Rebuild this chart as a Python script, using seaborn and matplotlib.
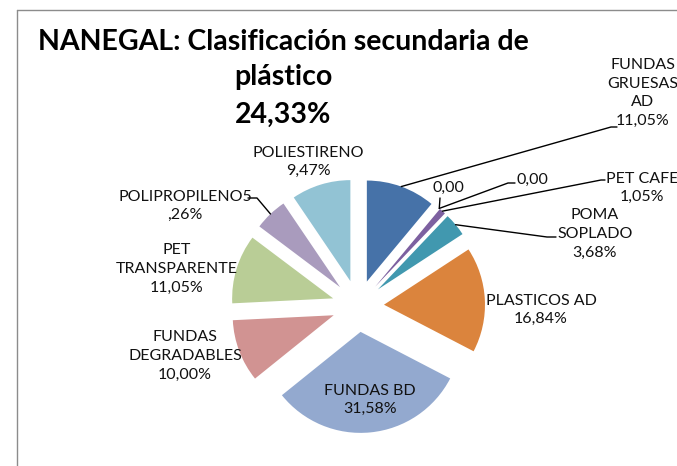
import numpy as np
import pandas as pd
import seaborn as sns
import matplotlib.pyplot as plt
from matplotlib.lines import Line2D

"""
datos: clasificacion secundaria de plastico en Nanegal (en %)
"""
categorias = ["FUNDAS GRUESAS AD", "SIN DATO 1", "SIN DATO 2", "PET CAFE", "POMA SOPLADO",
              "PLASTICOS AD", "FUNDAS BD", "FUNDAS DEGRADABLES", "PET TRANSPARENTE",
              "POLIPROPILENO", "POLIESTIRENO"]
porcentajes = [11.05, 0.0, 0.0, 1.05, 3.68, 16.84, 31.58, 10.00, 11.05, 5.26, 9.47]
etiquetas = ["FUNDAS\nGRUESAS\nAD\n11,05%", "0,00", "0,00", "PET CAFE\n1,05%",
             "POMA\nSOPLADO\n3,68%", "PLASTICOS AD\n16,84%", "FUNDAS BD\n31,58%",
             "FUNDAS\nDEGRADABLES\n10,00%", "PET\nTRANSPARENTE\n11,05%",
             "POLIPROPILENO5\n,26%", "POLIESTIRENO\n9,47%"]
colores = ["#4672A8", "#AA4643", "#89A54E", "#7D60A0", "#4198AF", "#DB843D",
           "#93A9CF", "#D19392", "#B9CD96", "#A99BBD", "#92C3D4"]

df = pd.DataFrame({"categoria": categorias, "porcentaje": porcentajes,
                   "etiqueta": etiquetas, "color": colores})

sns.set_theme(style="white")
plt.rcParams["font.family"] = ["Lato", "DejaVu Sans"]

W, H = 677, 466
fig = plt.figure(figsize=(W / 100, H / 100), dpi=100)
ax = fig.add_axes([0, 0, 1, 1])

# pie en coordenadas de pixel (y invertida)
wedges, _ = ax.pie(df["porcentaje"], colors=df["color"], startangle=-90, counterclock=True,
                   explode=[26] * len(df), radius=101, center=(358, 306),
                   wedgeprops=dict(linewidth=0))
ax.set_xlim(0, W)
ax.set_ylim(H, 0)
ax.set_aspect("equal")
ax.axis("off")

# posicion del texto (centro) y guia: codo, final
pos_texto = [(643, 93), (448, 188), (532, 180), (642, 188), (595, 234), (541, 310),
             (370, 400), (185, 356), (177, 269), (185, 206), (308, 162)]
guias = {0: [(611, 127), (617, 127)],
         1: [(440, 198)],
         2: [(508, 183), (515, 183)],
         3: [(601, 180), (605, 180)],
         4: [(547, 237), (556, 237)],
         9: [(257, 198), (248, 198)]}

for i, (x, y) in enumerate(pos_texto):
    ax.text(x, y, df["etiqueta"][i], ha="center", va="center", fontsize=11.5,
            color="#111111", linespacing=1.43)

for i, pts in guias.items():
    w = wedges[i]
    mid = np.deg2rad((w.theta1 + w.theta2) / 2)
    x0 = w.center[0] + w.r * np.cos(mid)
    y0 = w.center[1] + w.r * np.sin(mid)
    xs = [x0] + [p[0] for p in pts]
    ys = [y0] + [p[1] for p in pts]
    ax.plot(xs, ys, color="black", lw=1)

# titulo
ax.text(283, 42, "NANEGAL: Clasificación secundaria de", ha="center", va="center",
        fontsize=20.5, fontweight="bold", color="black")
ax.text(283, 77, "plástico", ha="center", va="center",
        fontsize=20.5, fontweight="bold", color="black")
ax.text(283, 115, "24,33%", ha="center", va="center", fontsize=20.5, fontweight="bold",
        color="black")

# marco del grafico
fig.add_artist(Line2D([17 / W, 17 / W], [0, 1 - 10 / H], color="#8c8c8c", lw=1))
fig.add_artist(Line2D([17 / W, 1], [1 - 10 / H, 1 - 10 / H], color="#8c8c8c", lw=1))

fig.savefig("out.png", dpi=100)
